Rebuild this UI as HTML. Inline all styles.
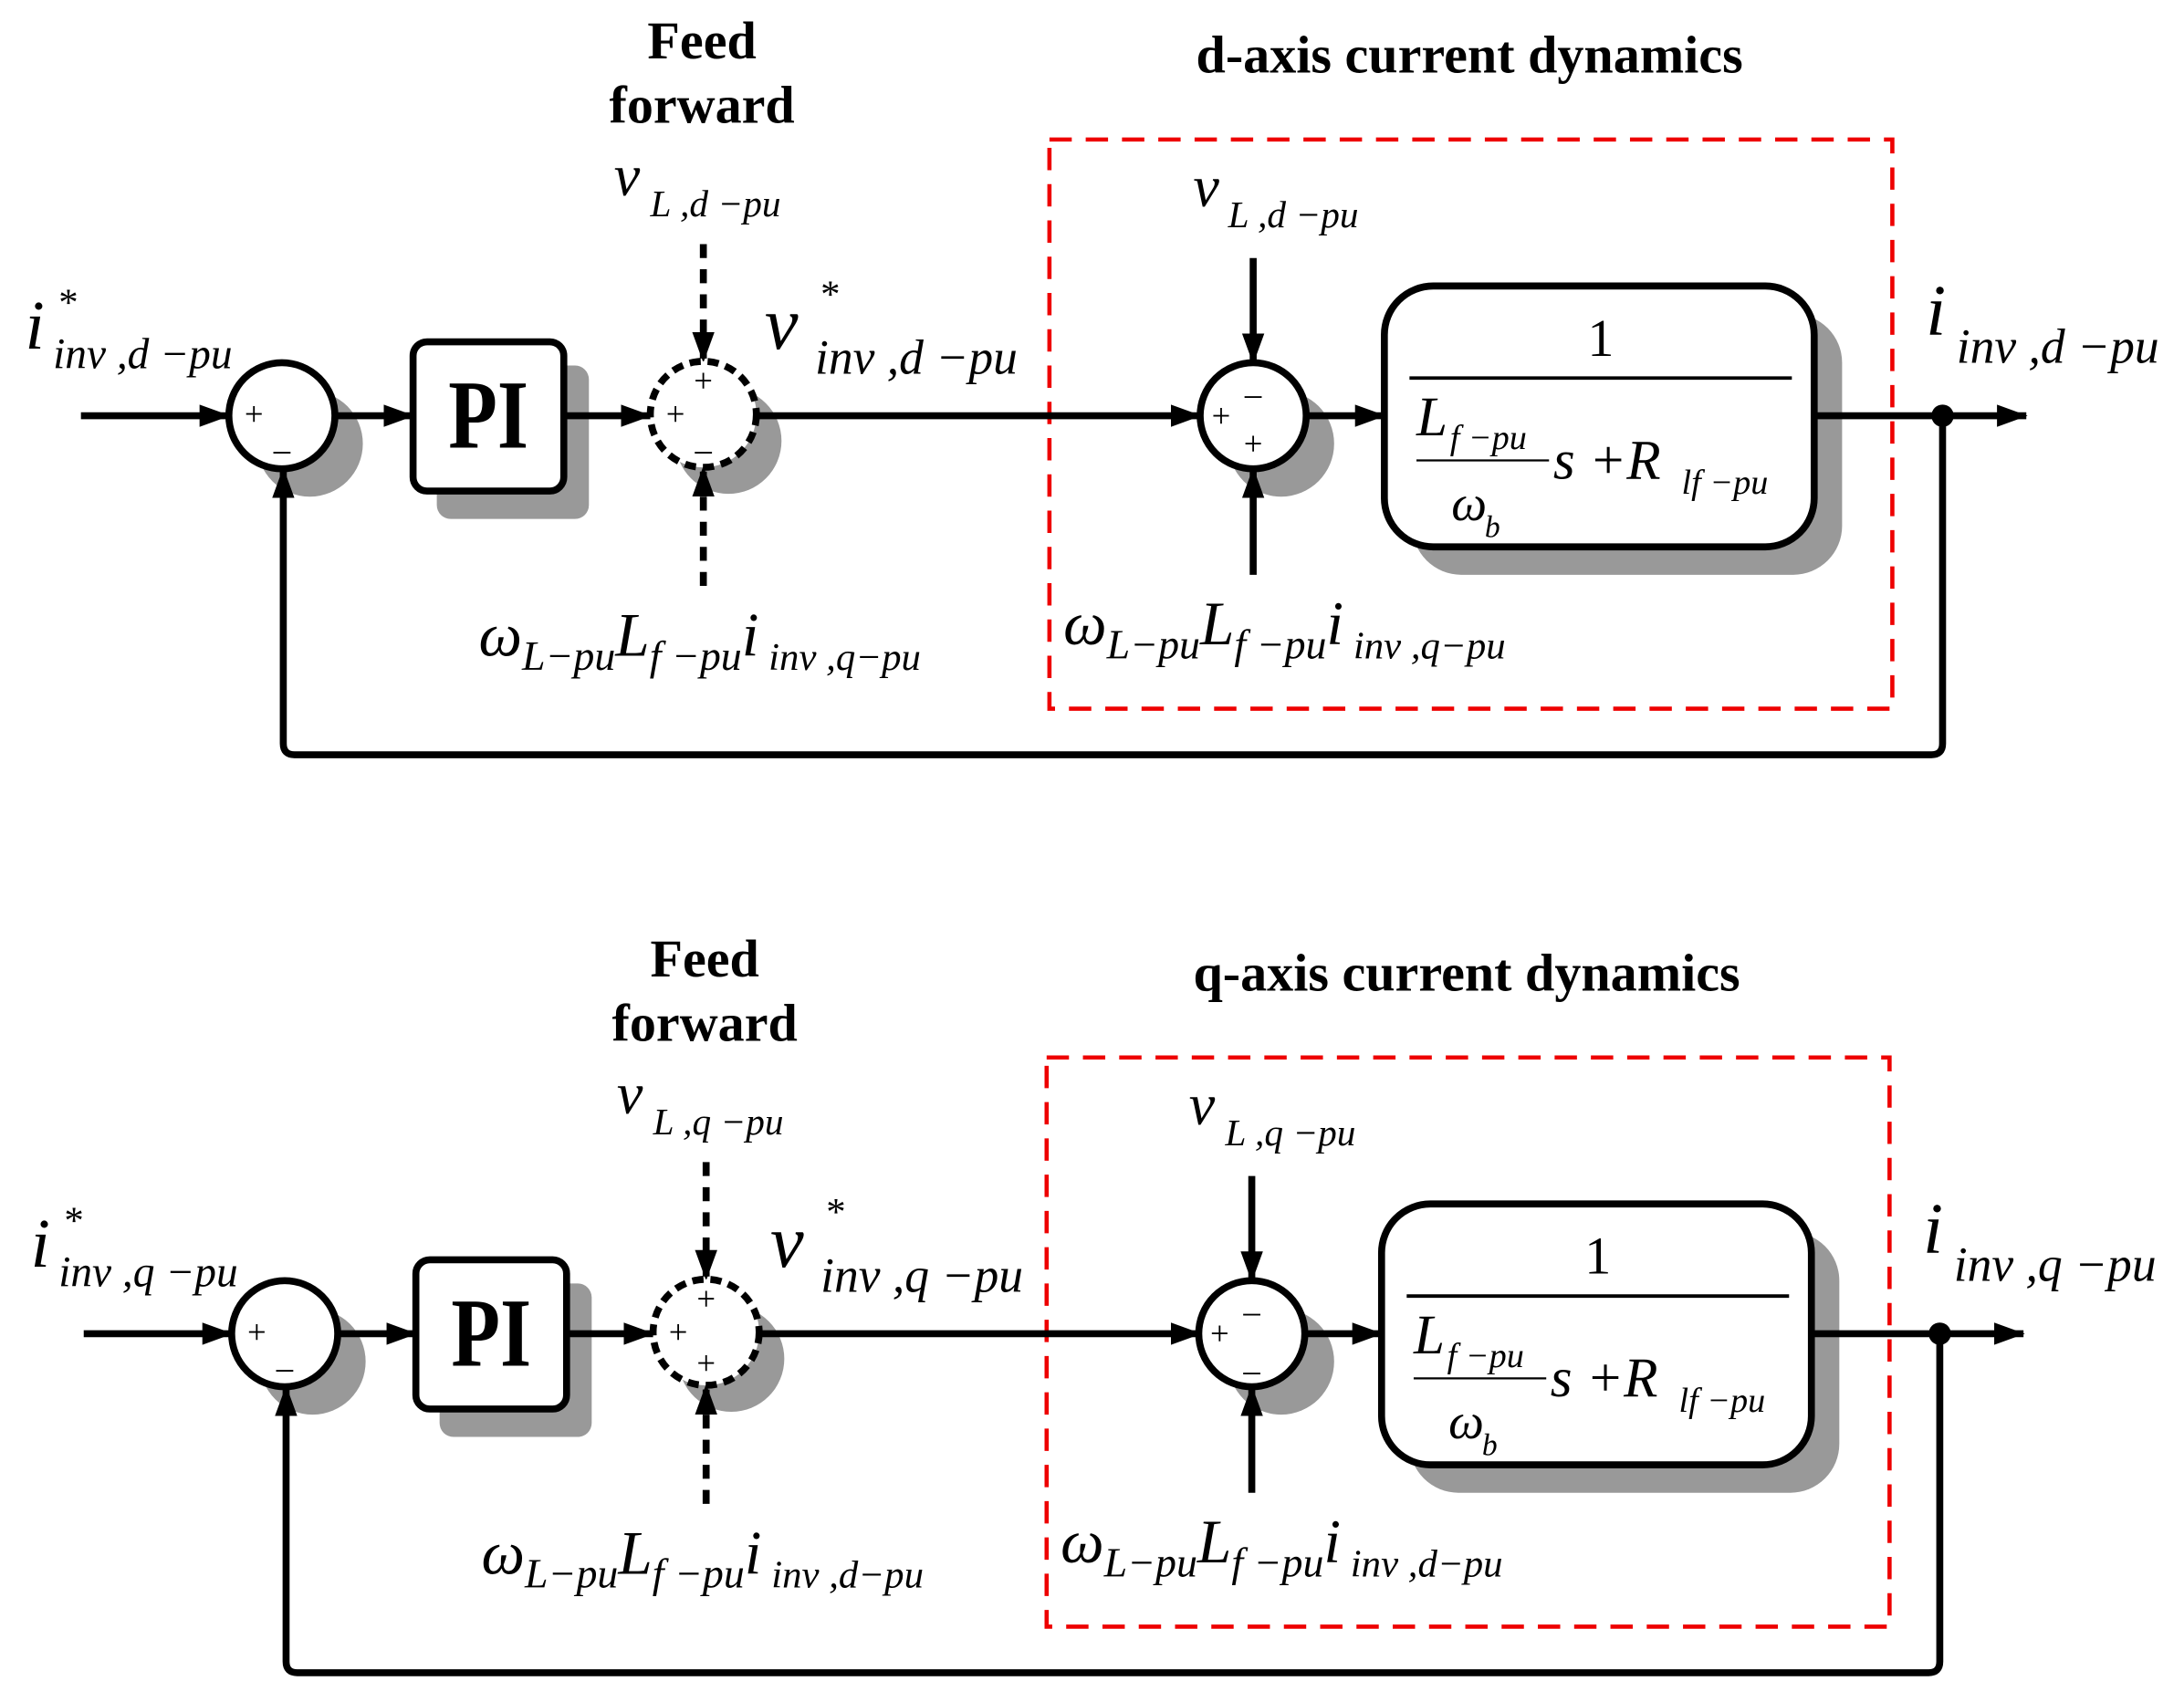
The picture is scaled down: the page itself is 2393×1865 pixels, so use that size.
<!DOCTYPE html>
<html><head><meta charset="utf-8"><style>
html,body{margin:0;padding:0;background:#fff;}
svg{display:block}
text{font-family:"Liberation Serif",serif;fill:#000}
.it{font-style:italic}
.b{font-weight:bold}
</style></head><body>
<svg width="2393" height="1865" viewBox="0 0 1565 1220" preserveAspectRatio="none" xmlns="http://www.w3.org/2000/svg">
<defs>
<marker id="ar" markerWidth="22" markerHeight="18" refX="21" refY="8" orient="auto" markerUnits="userSpaceOnUse" viewBox="0 0 22 16"><path d="M0,0 L22,8 L0,16 z" fill="#000"/></marker>
</defs>

<!-- ===================== TOP (d-axis) ===================== -->
<g id="top">
<text class="b" x="503" y="42" font-size="38" text-anchor="middle">Feed</text>
<text class="b" x="503" y="88" font-size="38" text-anchor="middle">forward</text>
<text class="b" x="1053" y="52" font-size="38" text-anchor="middle">d-axis current dynamics</text>

<rect x="752" y="100" width="604" height="408" fill="none" stroke="#e00" stroke-width="3" stroke-dasharray="16,10"/>

<ellipse cx="222" cy="318" rx="38" ry="38" fill="#999"/>
<rect x="313" y="262" width="109" height="110" rx="10" fill="#999"/>
<ellipse cx="522" cy="316" rx="38" ry="38" fill="#999"/>
<ellipse cx="918" cy="318" rx="38" ry="38" fill="#999"/>
<rect x="1012" y="225" width="308" height="187" rx="35" fill="#999"/>

<g stroke="#000" stroke-width="5" fill="none">
<line x1="58" y1="298" x2="164" y2="298" marker-end="url(#ar)"/>
<line x1="240" y1="298" x2="296" y2="298" marker-end="url(#ar)"/>
<line x1="404" y1="298" x2="466" y2="298" marker-end="url(#ar)"/>
<line x1="542" y1="298" x2="860" y2="298" marker-end="url(#ar)"/>
<line x1="937" y1="298" x2="992" y2="298" marker-end="url(#ar)"/>
<line x1="1300" y1="298" x2="1452" y2="298" marker-end="url(#ar)"/>
<line x1="898" y1="185" x2="898" y2="260" marker-end="url(#ar)"/>
<line x1="898" y1="412" x2="898" y2="336" marker-end="url(#ar)"/>
<line x1="504" y1="175" x2="504" y2="259" stroke-dasharray="10,8" marker-end="url(#ar)"/>
<line x1="504" y1="420" x2="504" y2="335" stroke-dasharray="10,8" marker-end="url(#ar)"/>
<path d="M1392,298 V533 Q1392,541 1384,541 H211 Q203,541 203,533 V336" marker-end="url(#ar)"/>
</g>
<circle cx="1392" cy="298" r="8" fill="#000"/>

<circle cx="202" cy="298" r="38" fill="#fff" stroke="#000" stroke-width="5"/>
<rect x="296" y="245" width="108" height="107" rx="10" fill="#fff" stroke="#000" stroke-width="5"/>
<circle cx="504" cy="297" r="38" fill="#fff" stroke="#000" stroke-width="5" stroke-dasharray="8,5"/>
<circle cx="898" cy="298" r="38" fill="#fff" stroke="#000" stroke-width="5"/>
<rect x="992" y="205" width="308" height="187" rx="35" fill="#fff" stroke="#000" stroke-width="5"/>

<text class="b" font-size="70" text-anchor="middle" transform="translate(350,321) scale(0.82,1)">PI</text>
<text x="182" y="305" font-size="24" text-anchor="middle">+</text>
<text x="202" y="330" font-size="24" text-anchor="middle">–</text>
<text x="504" y="281" font-size="24" text-anchor="middle">+</text>
<text x="484" y="305" font-size="24" text-anchor="middle">+</text>
<text x="504" y="330" font-size="24" text-anchor="middle">–</text>
<text x="898" y="290" font-size="24" text-anchor="middle" fill="#555">–</text>
<text x="875" y="306" font-size="24" text-anchor="middle">+</text>
<text x="898" y="326" font-size="24" text-anchor="middle">+</text>

<text x="1147" y="255" font-size="38" text-anchor="middle">1</text>
<line x1="1010" y1="271" x2="1284" y2="271" stroke="#000" stroke-width="2.5"/>
<text class="it" x="1015" y="312" font-size="40">L</text>
<text class="it" x="1039" y="322" font-size="25">f −pu</text>
<line x1="1015" y1="330" x2="1110" y2="330" stroke="#000" stroke-width="1.5"/>
<text class="it" x="1113" y="343" font-size="40">s +R</text>
<text class="it" x="1205" y="354" font-size="25">lf −pu</text>
<text class="it" x="1040" y="373" font-size="36">ω</text>
<text class="it" x="1064" y="385" font-size="22">b</text>

<text class="it" x="18" y="250" font-size="50">i</text>
<text x="42" y="226" font-size="28">*</text>
<text class="it" x="38" y="264" font-size="31">inv ,d −pu</text>

<text class="it" x="440" y="140" font-size="42">v</text>
<text class="it" x="466" y="155" font-size="27">L ,d −pu</text>

<text class="it" x="548" y="250" font-size="54">v</text>
<text x="588" y="220" font-size="28">*</text>
<text class="it" x="584" y="268" font-size="35">inv ,d −pu</text>

<text class="it" x="855" y="148" font-size="42">v</text>
<text class="it" x="880" y="163" font-size="27">L ,d −pu</text>

<text class="it" x="1380" y="240" font-size="52">i</text>
<text class="it" x="1402" y="260" font-size="35">inv ,d −pu</text>

<text class="it" x="343" y="470" font-size="44">ω<tspan font-size="30" dy="10">L−pu</tspan><tspan font-size="44" dy="-10">L</tspan><tspan font-size="30" dy="10">f −pu</tspan><tspan font-size="44" dy="-10">i</tspan><tspan font-size="28" dy="10"> inv ,q−pu</tspan></text>
<text class="it" x="762" y="462" font-size="44">ω<tspan font-size="30" dy="10">L−pu</tspan><tspan font-size="44" dy="-10">L</tspan><tspan font-size="30" dy="10">f −pu</tspan><tspan font-size="44" dy="-10">i</tspan><tspan font-size="28" dy="10"> inv ,q−pu</tspan></text>
</g>

<!-- ===================== BOTTOM (q-axis) ===================== -->
<g transform="translate(2,658)">
<text class="b" x="503" y="42" font-size="38" text-anchor="middle">Feed</text>
<text class="b" x="503" y="88" font-size="38" text-anchor="middle">forward</text>
<text class="b" x="1049" y="52" font-size="38" text-anchor="middle">q-axis current dynamics</text>

<rect x="748" y="100" width="604" height="408" fill="none" stroke="#e00" stroke-width="3" stroke-dasharray="16,10"/>

<ellipse cx="222" cy="318" rx="38" ry="38" fill="#999"/>
<rect x="313" y="262" width="109" height="110" rx="10" fill="#999"/>
<ellipse cx="522" cy="316" rx="38" ry="38" fill="#999"/>
<ellipse cx="916" cy="318" rx="38" ry="38" fill="#999"/>
<rect x="1008" y="225" width="308" height="187" rx="35" fill="#999"/>

<g stroke="#000" stroke-width="5" fill="none">
<line x1="58" y1="298" x2="164" y2="298" marker-end="url(#ar)"/>
<line x1="240" y1="298" x2="296" y2="298" marker-end="url(#ar)"/>
<line x1="404" y1="298" x2="466" y2="298" marker-end="url(#ar)"/>
<line x1="542" y1="298" x2="858" y2="298" marker-end="url(#ar)"/>
<line x1="935" y1="298" x2="988" y2="298" marker-end="url(#ar)"/>
<line x1="1296" y1="298" x2="1448" y2="298" marker-end="url(#ar)"/>
<line x1="895" y1="185" x2="895" y2="260" marker-end="url(#ar)"/>
<line x1="895" y1="412" x2="895" y2="336" marker-end="url(#ar)"/>
<line x1="504" y1="175" x2="504" y2="259" stroke-dasharray="10,8" marker-end="url(#ar)"/>
<line x1="504" y1="420" x2="504" y2="335" stroke-dasharray="10,8" marker-end="url(#ar)"/>
<path d="M1388,298 V533 Q1388,541 1380,541 H211 Q203,541 203,533 V336" marker-end="url(#ar)"/>
</g>
<circle cx="1388" cy="298" r="8" fill="#000"/>

<circle cx="202" cy="298" r="38" fill="#fff" stroke="#000" stroke-width="5"/>
<rect x="296" y="245" width="108" height="107" rx="10" fill="#fff" stroke="#000" stroke-width="5"/>
<circle cx="504" cy="297" r="38" fill="#fff" stroke="#000" stroke-width="5" stroke-dasharray="8,5"/>
<circle cx="895" cy="298" r="38" fill="#fff" stroke="#000" stroke-width="5"/>
<rect x="988" y="205" width="308" height="187" rx="35" fill="#fff" stroke="#000" stroke-width="5"/>

<text class="b" font-size="70" text-anchor="middle" transform="translate(350,321) scale(0.82,1)">PI</text>
<text x="182" y="305" font-size="24" text-anchor="middle">+</text>
<text x="202" y="330" font-size="24" text-anchor="middle">–</text>
<text x="504" y="281" font-size="24" text-anchor="middle">+</text>
<text x="484" y="305" font-size="24" text-anchor="middle">+</text>
<text x="504" y="327" font-size="24" text-anchor="middle">+</text>
<text x="895" y="290" font-size="24" text-anchor="middle">–</text>
<text x="872" y="306" font-size="24" text-anchor="middle">+</text>
<text x="895" y="332" font-size="24" text-anchor="middle">–</text>

<text x="1143" y="255" font-size="38" text-anchor="middle">1</text>
<line x1="1006" y1="271" x2="1280" y2="271" stroke="#000" stroke-width="2.5"/>
<text class="it" x="1011" y="312" font-size="40">L</text>
<text class="it" x="1035" y="322" font-size="25">f −pu</text>
<line x1="1011" y1="330" x2="1106" y2="330" stroke="#000" stroke-width="1.5"/>
<text class="it" x="1109" y="343" font-size="40">s +R</text>
<text class="it" x="1201" y="354" font-size="25">lf −pu</text>
<text class="it" x="1036" y="373" font-size="36">ω</text>
<text class="it" x="1060" y="385" font-size="22">b</text>

<text class="it" x="20" y="250" font-size="50">i</text>
<text x="44" y="226" font-size="28">*</text>
<text class="it" x="40" y="264" font-size="31">inv ,q −pu</text>

<text class="it" x="440" y="140" font-size="42">v</text>
<text class="it" x="466" y="155" font-size="27">L ,q −pu</text>

<text class="it" x="550" y="250" font-size="54">v</text>
<text x="590" y="220" font-size="28">*</text>
<text class="it" x="586" y="268" font-size="35">inv ,q −pu</text>

<text class="it" x="850" y="148" font-size="42">v</text>
<text class="it" x="876" y="163" font-size="27">L ,q −pu</text>

<text class="it" x="1376" y="240" font-size="52">i</text>
<text class="it" x="1398" y="260" font-size="35">inv ,q −pu</text>

<text class="it" x="343" y="470" font-size="44">ω<tspan font-size="30" dy="10">L−pu</tspan><tspan font-size="44" dy="-10">L</tspan><tspan font-size="30" dy="10">f −pu</tspan><tspan font-size="44" dy="-10">i</tspan><tspan font-size="28" dy="10"> inv ,d−pu</tspan></text>
<text class="it" x="758" y="462" font-size="44">ω<tspan font-size="30" dy="10">L−pu</tspan><tspan font-size="44" dy="-10">L</tspan><tspan font-size="30" dy="10">f −pu</tspan><tspan font-size="44" dy="-10">i</tspan><tspan font-size="28" dy="10"> inv ,d−pu</tspan></text>
</g>
</svg>
</body></html>
